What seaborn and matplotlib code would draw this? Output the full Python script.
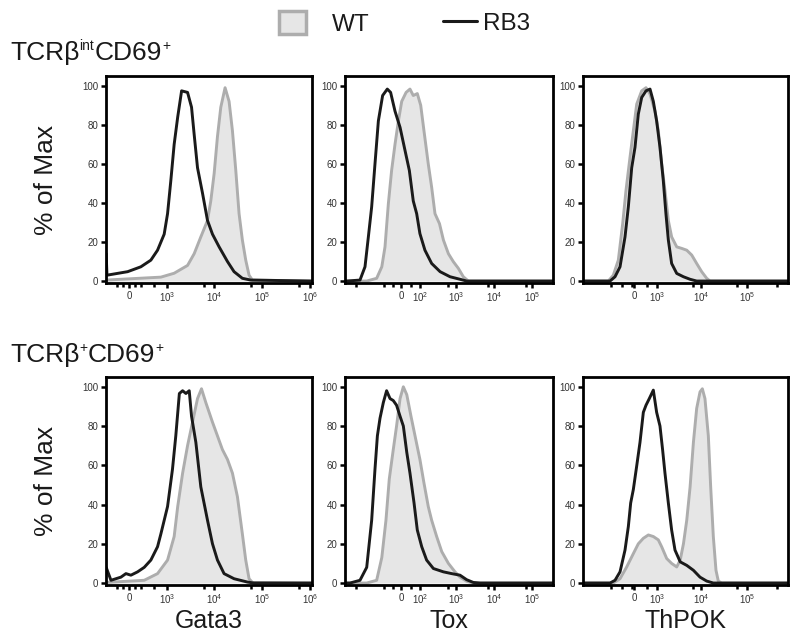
import matplotlib
matplotlib.use("Agg")
import matplotlib.pyplot as plt
import seaborn as sns
from matplotlib.patches import Patch
from matplotlib.lines import Line2D

# channel names and row (gate) titles, as (text, is_superscript) pieces
markers = ["Gata3", "Tox", "ThPOK"]
row_titles = [[("TCRβ", False), ("int", True), ("CD69", False), ("+", True)],
              [("TCRβ", False), ("+", True), ("CD69", False), ("+", True)]]

# per-channel biexponential display (asinh) settings
lin_widths = [333, 70, 700]
x_limits = [(-445, 1.1e6), (-1040, 3.5e5), (-4470, 7.8e5)]
major_ticks = [[0, 1e3, 1e4, 1e5, 1e6], [0, 1e2, 1e3, 1e4, 1e5], [0, 1e3, 1e4, 1e5]]
major_labels = [["0", "$10^3$", "$10^4$", "$10^5$", "$10^6$"],
                ["0", "$10^2$", "$10^3$", "$10^4$", "$10^5$"],
                ["0", "$10^3$", "$10^4$", "$10^5$"]]
minor_ticks = [[-200, -100, 100, 200, 500, 6e3, 6e4, 6e5],
               [-530, -85, -35, 45, 600, 6.8e3, 6.8e4],
               [-1000, -450, -60, 490, 6.7e3, 6e4, 4.5e5]]

# ---- TCRb int CD69+ ----
gata3_int_wt_x = [-445, 737, 1445, 2776, 3823, 5265, 7260, 8500, 9990, 11720, 13750, 16900, 20480,
                  24060, 28200, 33100, 38800, 45600, 53500, 62700, 1.1e6]
gata3_int_wt_y = [0.5, 2, 4, 8, 14, 22.6, 31, 41, 55, 74, 89, 99, 92, 77, 57, 34.5, 21, 10.7, 3, 0.5, 0]
gata3_int_rb_x = [-440, -420, -20, 202, 420, 617, 876, 1040, 1226, 1445, 1720, 2080, 2776, 3366, 3823,
                  4490, 5710, 7260, 9220, 12690, 18950, 26000, 38800, 58000, 1.1e6]
gata3_int_rb_y = [14, 3, 4.8, 7.3, 10.7, 15.8, 24, 34.5, 51.5, 70, 84, 97.4, 96.6, 89, 75, 58, 45, 31,
                  24, 17.5, 10, 4.8, 1.4, 0.5, 0]

tox_int_wt_x = [-1040, -275, -145, -101, -79, -59, -42, -26, -11, 3, 22, 40, 57, 81, 105, 132, 176, 219,
                270, 357, 455, 617, 835, 1130, 1527, 2070, 3.5e5]
tox_int_wt_y = [0, 0, 1.4, 7.3, 17.5, 39.6, 56.6, 70, 82, 92, 96.6, 98.3, 95, 96, 90, 77, 60, 48, 34.5,
                29.4, 21, 14, 9.9, 6.5, 2.2, 0, 0]
tox_int_rb_x = [-1040, -940, -417, -306, -248, -201, -162, -129, -95, -65, -47, -26, -4, 17, 37, 57, 77,
                99, 141, 219, 371, 682, 1250, 1870, 3.5e5]
tox_int_rb_y = [0, 0, 0.5, 7.3, 22.6, 38, 60, 82, 95, 98.3, 96.6, 87, 78.7, 67, 56.6, 41, 34.5, 24.3,
                15.8, 9, 4.8, 2.2, 0.9, 0, 0]

thpok_int_wt_x = [-4470, -1170, -861, -608, -418, -288, -141, -23, 95, 276, 446, 623, 880, 1078, 1310,
                  1575, 1890, 2250, 2930, 3800, 4880, 6280, 8050, 10350, 13300, 15700, 7.8e5]
thpok_int_wt_y = [0, 0, 3, 10.7, 29.4, 46.4, 63.4, 77, 90.6, 97.4, 99, 95.7, 87, 77, 60, 46.4, 31, 22.6,
                  17.5, 16.7, 15.8, 13.3, 9, 4.8, 1.4, 0, 0]
thpok_int_rb_x = [-4470, -1057, -770, -531, -326, -201, -81, 35, 152, 276, 446, 623, 788, 974, 1190,
                  1435, 1660, 1890, 2250, 2930, 4130, 5780, 8050, 7.8e5]
thpok_int_rb_y = [0, 0, 2.2, 7.3, 22.6, 38, 58, 68.5, 85.5, 94, 97.4, 98.3, 92, 82, 68.5, 51.5, 34.5,
                  21, 9, 3.9, 2.2, 0.9, 0, 0]

# ---- TCRb+ CD69+ ----
gata3_pos_wt_x = [-440, 268, 617, 1040, 1445, 1720, 2185, 2776, 3530, 4490, 5440, 6690, 9220, 11720,
                  14880, 18950, 24060, 30570, 38800, 45600, 53500, 62700, 1.1e6]
gata3_pos_wt_y = [0.3, 1.4, 4.8, 11.7, 23.7, 39, 56, 70, 82, 94, 99, 92, 82, 75, 68, 63, 56, 44, 25,
                  11.7, 2.2, 0.3, 0]
gata3_pos_rb_x = [-440, -324, -131, -48, 32, 143, 268, 420, 617, 737, 1040, 1330, 1566, 1865, 2185, 2565,
                  3010, 3366, 4145, 5265, 7260, 9220, 11720, 16100, 26000, 49400, 68000, 1.1e6]
gata3_pos_rb_y = [8, 1.4, 3, 4.8, 4, 5.7, 8, 11.7, 18.5, 25, 39, 58, 75, 96.6, 98, 96.6, 98, 85, 71.7,
                  49, 32, 20, 11.7, 4.8, 2.2, 0.5, 0, 0]

tox_pos_wt_x = [-1040, -275, -145, -101, -73, -54, -34, -19, -4, 10, 25, 45, 67, 99, 132, 176, 219, 300,
                411, 617, 922, 1250, 1870, 2800, 3.5e5]
tox_pos_wt_y = [0, 0, 1.4, 13, 32, 53, 68, 80, 94, 100, 96, 85, 75, 63, 51, 39, 32, 23.7, 16, 10, 5.7,
                3, 0.9, 0, 0]
tox_pos_rb_x = [-1040, -768, -417, -275, -201, -162, -138, -115, -90, -69, -50, -34, -19, -4, 10, 25, 40,
                61, 81, 113, 158, 244, 455, 753, 1250, 1870, 2800, 4200, 3.5e5]
tox_pos_rb_y = [0, 0, 1.4, 8, 32, 58, 75, 84, 92, 98, 94, 93, 90.6, 85, 80, 66.6, 56, 41, 27, 18.5,
                11.7, 7.4, 5.7, 4.8, 4, 1.7, 0.3, 0, 0]

thpok_pos_wt_x = [-4470, -861, -531, -262, -23, 152, 339, 547, 788, 1078, 1310, 1730, 2250, 2930, 3500,
                  4130, 4880, 5780, 6830, 8050, 9520, 10700, 12200, 14450, 16250, 18550, 21200, 23800,
                  28200, 7.8e5]
thpok_pos_wt_y = [0, 0, 2.2, 8.2, 15, 20, 22.8, 24.5, 23.7, 22, 18.5, 12.5, 10, 8.2, 11.7, 20, 32, 49,
                  71.7, 89, 97.4, 99, 94, 75, 49, 23.7, 6.5, 1, 0, 0]
thpok_pos_rb_x = [-4470, -1057, -770, -531, -326, -201, -117, -23, 95, 213, 339, 446, 590, 788, 974, 1190,
                  1380, 1575, 1890, 2250, 2680, 3500, 4880, 6830, 9520, 13300, 18550, 7.8e5]
thpok_pos_rb_y = [0, 0, 1.4, 5.7, 16.8, 28.8, 40.8, 47.7, 59.7, 71.7, 87, 90.6, 94, 98.3, 87, 80, 68,
                  56, 40.8, 27, 16.8, 10.8, 9, 6.5, 3, 1, 0, 0]

panels = [
    [(gata3_int_wt_x, gata3_int_wt_y, gata3_int_rb_x, gata3_int_rb_y),
     (tox_int_wt_x, tox_int_wt_y, tox_int_rb_x, tox_int_rb_y),
     (thpok_int_wt_x, thpok_int_wt_y, thpok_int_rb_x, thpok_int_rb_y)],
    [(gata3_pos_wt_x, gata3_pos_wt_y, gata3_pos_rb_x, gata3_pos_rb_y),
     (tox_pos_wt_x, tox_pos_wt_y, tox_pos_rb_x, tox_pos_rb_y),
     (thpok_pos_wt_x, thpok_pos_wt_y, thpok_pos_rb_x, thpok_pos_rb_y)],
]

WT_FILL = "#e6e6e6"
WT_EDGE = "#adadad"
RB_COLOR = "#1a1a1a"
TEXT = "#1a1a1a"

sns.set_theme(style="ticks")
plt.rcParams["font.family"] = ["Liberation Sans", "DejaVu Sans"]
plt.rcParams["mathtext.fontset"] = "custom"
plt.rcParams["mathtext.rm"] = "Liberation Sans"
plt.rcParams["mathtext.it"] = "Liberation Sans:italic"
plt.rcParams["mathtext.bf"] = "Liberation Sans:bold"

W, H = 800, 640
fig = plt.figure(figsize=(8, 6.4), dpi=100)

col_left = [106, 345, 583]
col_right = [312, 553, 788]
row_top = [76, 377]
row_bottom = [283, 585]

for r in range(2):
    for c in range(3):
        ax = fig.add_axes([col_left[c] / W, 1 - row_bottom[r] / H,
                           (col_right[c] - col_left[c]) / W, (row_bottom[r] - row_top[r]) / H])
        wt_x, wt_y, rb_x, rb_y = panels[r][c]
        ax.fill_between(wt_x, 0, wt_y, color=WT_FILL, lw=0)
        sns.lineplot(x=wt_x, y=wt_y, ax=ax, color=WT_EDGE, lw=2.1, sort=False, estimator=None)
        sns.lineplot(x=rb_x, y=rb_y, ax=ax, color=RB_COLOR, lw=2.1, sort=False, estimator=None)

        ax.set_xscale("asinh", linear_width=lin_widths[c])
        ax.set_xlim(*x_limits[c])
        ax.set_ylim(-1, 105)
        ax.set_xticks(major_ticks[c], labels=major_labels[c])
        ax.set_xticks(minor_ticks[c], minor=True)
        ax.set_yticks([0, 20, 40, 60, 80, 100])

        for sp in ax.spines.values():
            sp.set_visible(True)
            sp.set_linewidth(2.0)
            sp.set_color("black")
        ax.tick_params(axis="both", which="major", direction="out", length=3.5, width=1.8,
                       labelsize=7, labelcolor="#333333", pad=2, color="black")
        ax.tick_params(axis="x", which="minor", direction="out", length=3, width=1.8, color="black")
        ax.set_xlabel("")
        ax.set_ylabel("")
        if c == 0:
            ax.set_ylabel("% of Max", fontsize=19, color=TEXT)
            ax.yaxis.set_label_coords(-0.233, 0.5)
        if r == 1:
            ax.set_xlabel(markers[c], fontsize=18, color=TEXT)
            ax.xaxis.set_label_coords(0.5, -0.115)

# row titles built piece by piece so superscripts stay small and tight
renderer = fig.canvas.get_renderer()
for pieces, base_y in zip(row_titles, [60, 362]):
    x = 10
    for txt, sup in pieces:
        size = 10 if sup else 19
        y = base_y - (10 if sup else 0)
        t = fig.text(x / W, 1 - y / H, txt, fontsize=size, color=TEXT, va="baseline", ha="left")
        x += t.get_window_extent(renderer).width + (0.5 if sup else 0)

leg1 = fig.legend(handles=[Patch(facecolor=WT_FILL, edgecolor=WT_EDGE, linewidth=2.5)], labels=["WT"],
                  loc="center", bbox_to_anchor=(324.5 / W, 1 - 23.5 / H), frameon=False,
                  fontsize=17.5, handlelength=1.1, handleheight=1.1, handletextpad=1.07)
leg2 = fig.legend(handles=[Line2D([], [], color=RB_COLOR, lw=2.2)], labels=["RB3"],
                  loc="center", bbox_to_anchor=(486.5 / W, 1 - 23.5 / H), frameon=False,
                  fontsize=17.5, handlelength=1.4, handletextpad=0.25)
for leg in (leg1, leg2):
    for t in leg.get_texts():
        t.set_color(TEXT)

fig.savefig("out.png", dpi=100)
